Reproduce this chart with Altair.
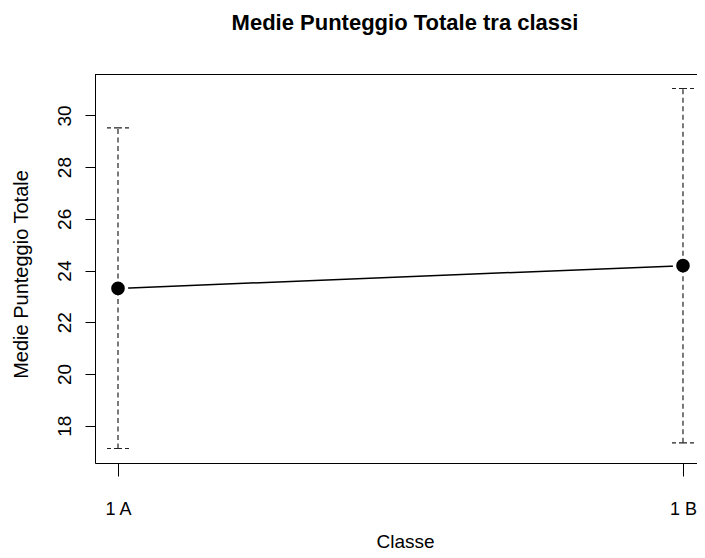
import altair as alt
import pandas as pd

# ---- data ----
classes = ["1 A", "1 B"]
positions = [1, 2]
means = [23.31, 24.19]
lower = [17.12, 17.34]
upper = [29.52, 31.04]
y_ticks = [18, 20, 22, 24, 26, 28, 30]

df = pd.DataFrame({"classe": classes, "pos": positions, "media": means,
                   "low": lower, "high": upper})

FONT = "Liberation Sans"
W, H = 602, 389

label_expr = " : ".join(f"datum.value == {p} ? '{c}'" for p, c in zip(positions, classes)) + " : ''"

xs = alt.Scale(domain=[0.9593, 2.0248], nice=False, zero=False)
ys = alt.Scale(domain=[16.56, 31.6], nice=False, zero=False)

xaxis = alt.Axis(values=positions, labelExpr=label_expr, grid=False,
                 tickSize=13, tickColor="black", domainColor="black",
                 labelFont=FONT, labelFontSize=18, labelColor="black",
                 labelBaseline="alphabetic", labelAlign="center", labelPadding=38,
                 titleFont=FONT, titleFontSize=19, titleFontWeight="normal",
                 titleColor="black", titleX=310, titleY=84,
                 titleBaseline="alphabetic", titleAlign="center")
yaxis = alt.Axis(values=y_ticks, grid=False, tickSize=10, tickColor="black",
                 domainColor="black", labelFont=FONT, labelFontSize=19,
                 labelColor="black", labelAngle=270, labelAlign="center",
                 labelBaseline="alphabetic", labelPadding=15,
                 titleFont=FONT, titleFontSize=20, titleFontWeight="normal",
                 titleColor="black", titleAngle=270, titleX=-68, titleY=200,
                 titleBaseline="alphabetic", titleAlign="center")

X = alt.X("pos:Q", scale=xs, axis=xaxis, title="Classe")
def Y(field):
    return alt.Y(field, scale=ys, axis=yaxis, title="Medie Punteggio Totale")

base = alt.Chart(df)

frame_top = alt.Chart(pd.DataFrame({"k": [0]})).mark_rule(
    color="black", strokeWidth=1).encode(
    x=alt.value(0), x2=alt.value(W), y=alt.value(0.5))

line = base.mark_line(color="black", strokeWidth=1.5).encode(x=X, y=Y("media:Q"))

halo = base.mark_point(filled=True, color="white", opacity=1, size=415).encode(
    x=X, y=Y("media:Q"))

bars = base.mark_rule(color="#222", strokeWidth=1.2, strokeDash=[5, 3.5]).encode(
    x=X, y=Y("low:Q"), y2="high:Q")

caps = base.transform_fold(["low", "high"], as_=["which", "val"])
cap_left = caps.mark_rule(color="#222", strokeWidth=1.2, strokeDash=[4, 3],
                          x2Offset=-12).encode(x=X, x2="pos:Q", y=Y("val:Q"))
cap_right = caps.mark_rule(color="#222", strokeWidth=1.2, strokeDash=[4, 3],
                           x2Offset=12).encode(x=X, x2="pos:Q", y=Y("val:Q"))

points = base.mark_point(filled=True, color="black", opacity=1, size=185).encode(
    x=X, y=Y("media:Q"))

chart = alt.layer(frame_top, line, halo, bars, cap_left, cap_right, points).properties(
    width=W, height=H,
    title=alt.TitleParams("Medie Punteggio Totale tra classi", font=FONT,
                          fontSize=22, fontWeight="bold", color="black",
                          anchor="middle", frame="group", baseline="alphabetic",
                          offset=22, dx=9),
    padding={"left": 87, "top": 66, "right": 0, "bottom": 87},
    autosize="none",
).configure_view(stroke=None).configure(background="white")

chart.save("out.html", embed_options={"renderer": "svg", "actions": False})
